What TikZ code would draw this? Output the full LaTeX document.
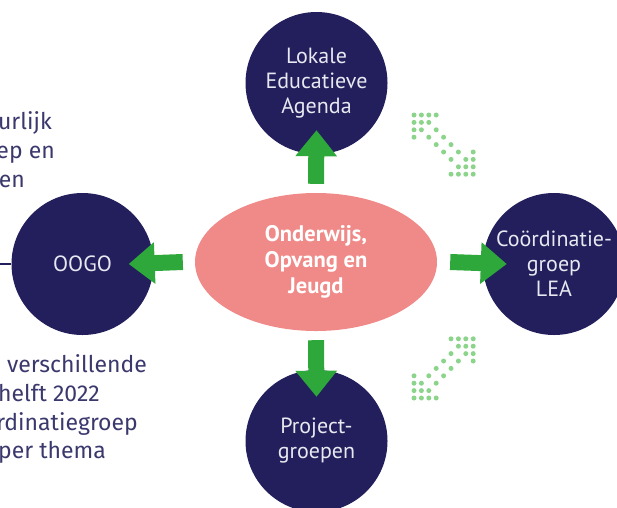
\documentclass[tikz,border=0pt]{standalone}
\usepackage{fontspec}
\setmainfont{PT Sans}
\newfontfamily\sidefont{Fira Sans}
\usetikzlibrary{arrows.meta,shapes.geometric}
\definecolor{navy}{RGB}{34,31,92}
\definecolor{salmon}{RGB}{240,138,136}
\definecolor{arrowgreen}{RGB}{46,168,58}
\definecolor{dotgreen}{RGB}{140,212,140}
\definecolor{sidetext}{RGB}{58,56,108}
\definecolor{lighttext}{RGB}{232,232,240}
\begin{document}
\begin{tikzpicture}[x=1pt,y=-1pt,>={Triangle[length=26pt,width=40pt]},line join=round,
	orgbox/.style={circle,fill=navy,minimum size=142pt,inner sep=0pt,align=center,text=lighttext,font=\fontsize{22}{25}\selectfont},
	hub/.style={ellipse,fill=salmon,minimum width=242pt,minimum height=138pt,inner sep=0pt,align=center,text=white,font=\bfseries\fontsize{22.5}{26}\selectfont},
	greenarrow/.style={draw=arrowgreen,line width=16pt,line cap=butt,line join=miter,->},
	sidetxt/.style={anchor=base east,inner sep=0pt,text=sidetext,font=\sidefont\fontsize{23}{29}\selectfont}]
	\def\dx{7.4} % afstand stippen
	\useasboundingbox (0,0) rectangle (617,507);
	% tekst links
	\node[sidetxt] (t1) at (52,129) {urlijk};
	\node[sidetxt] (t2) at (55,158) {ep en};
	\node[sidetxt] (t3) at (25,187) {en};
	\node[sidetxt] (b1) at (147,372) {n verschillende};
	\node[sidetxt] (b2) at (100,401) {helft 2022};
	\node[sidetxt] (b3) at (138,430) {rdinatiegroep};
	\node[sidetxt] (b4) at (106,458) {per thema};
	% cirkels en midden
	\node[orgbox] (lea) at (316.5,83) {Lokale\\Educatieve\\Agenda};
	\node[orgbox] (oogo) at (82.5,264) {OOGO};
	\node[orgbox] (coord) at (554,264) {Coördinatie-\\groep\\LEA};
	\node[orgbox] (proj) at (316.5,441) {Project-\\groepen};
	\node[hub] (ow) at (316,262) {Onderwijs,\\Opvang en\\Jeugd};
	\coordinate (links) at (-2,264);
	\draw[navy,line width=1.2pt] (oogo.west)--(links);
	% groene pijlen
	\draw[greenarrow] ([yshift=9pt]ow.north)--([yshift=24pt]lea.south);
	\draw[greenarrow] ([xshift=-12pt]ow.west)--([xshift=-25pt]oogo.east);
	\draw[greenarrow] ([xshift=13pt]ow.east)--([xshift=24pt]coord.west);
	\draw[greenarrow] ([yshift=-9pt]ow.south)--([yshift=-27pt]proj.north);
	% gestippelde dubbele pijlen
	\foreach \oy/\sg in {115/1,398/-1}
	\foreach \i in {0,...,8}
	\foreach \j in {0,...,8}{
		\pgfmathtruncatemacro\on{((\i+\j)<4)||((\i+\j)>12)||(abs(\i-\j)==1)}
		\ifnum\on=1 \fill[dotgreen] (414+\dx*\i,\oy+\sg*\dx*\j) circle (2.5pt);\fi
	}
\end{tikzpicture}
\end{document}
